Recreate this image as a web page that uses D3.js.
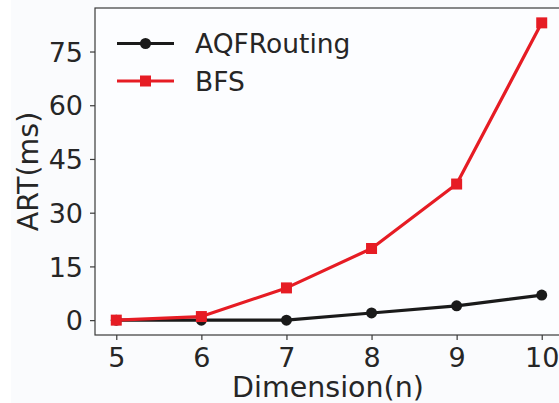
<!DOCTYPE html>
<html>
<head>
<meta charset="utf-8">
<script src="https://cdn.jsdelivr.net/npm/d3@7"></script>
<style>
  body { margin: 0; background: #ffffff; }
  text { font-family: "DejaVu Sans", sans-serif; fill: #262626; }
</style>
</head>
<body>
<div id="chart"></div>
<script>
// data
const dimensions = [5, 6, 7, 8, 9, 10];
const aqfRouting = [0, 0, 0, 2, 4, 7];
const bfs = [0, 1, 9, 20, 38, 83];
const yTicks = [0, 15, 30, 45, 60, 75];
const seriesNames = ["AQFRouting", "BFS"];
const seriesColors = ["#1a1a1a", "#e61c24"];

const W = 559, H = 403;
const margin = {top: 8, right: -4, bottom: 68, left: 95};
const width = W - margin.left - margin.right;
const height = H - margin.top - margin.bottom;

const svg = d3.select("#chart").append("svg")
    .attr("width", W)
    .attr("height", H);

// faint figure background
svg.append("rect")
    .attr("x", 11).attr("y", 0)
    .attr("width", W - 11).attr("height", H)
    .attr("fill", "#fafbfd");

const g = svg.append("g")
    .attr("transform", "translate(" + margin.left + "," + margin.top + ")");

// matplotlib-style 5% margins
const x = d3.scaleLinear()
    .domain([4.75, 10.25])
    .range([0, width]);
const y = d3.scaleLinear()
    .domain([-4.15, 87.15])
    .range([height, 0]);

g.append("rect")
    .attr("width", width).attr("height", height)
    .attr("fill", "#fcfdff")
    .attr("stroke", "#3a3a3a")
    .attr("stroke-width", 1.2);

const xAxis = d3.axisBottom(x).tickValues(dimensions).tickFormat(d3.format("d")).tickSize(5).tickPadding(7);
const yAxis = d3.axisLeft(y).tickValues(yTicks).tickSize(5).tickPadding(7);

const gx = g.append("g")
    .attr("transform", "translate(0," + height + ")")
    .call(xAxis);
const gy = g.append("g").call(yAxis);

[gx, gy].forEach(a => {
    a.select(".domain").remove();
    a.selectAll(".tick line").attr("stroke", "#3a3a3a").attr("stroke-width", 1.2);
    a.selectAll(".tick text").style("font-size", "27px").attr("fill", "#262626");
});
gx.selectAll(".tick text").attr("dy", "0.75em");
gy.selectAll(".tick text").attr("dy", "0.36em");

// axis titles
svg.append("text")
    .attr("x", margin.left + width / 2 - 1)
    .attr("y", 397)
    .attr("text-anchor", "middle")
    .style("font-size", "28.5px")
    .text("Dimension(n)");

svg.append("text")
    .attr("transform", "translate(38," + (margin.top + height / 2) + ") rotate(-90)")
    .attr("text-anchor", "middle")
    .style("font-size", "28.5px")
    .text("ART(ms)");

const line = d3.line()
    .x((d, i) => x(dimensions[i]))
    .y(d => y(d));

const series = [aqfRouting, bfs];

series.forEach((vals, si) => {
    g.append("path")
        .datum(vals)
        .attr("fill", "none")
        .attr("stroke", seriesColors[si])
        .attr("stroke-width", 3.2)
        .attr("stroke-linejoin", "round")
        .attr("d", line);

    if (si === 0) {
        g.selectAll(".dot")
            .data(vals)
            .enter().append("circle")
            .attr("cx", (d, i) => x(dimensions[i]))
            .attr("cy", d => y(d))
            .attr("r", 5.5)
            .attr("fill", seriesColors[si]);
    } else {
        g.selectAll(".sq")
            .data(vals)
            .enter().append("rect")
            .attr("x", (d, i) => x(dimensions[i]) - 5.5)
            .attr("y", d => y(d) - 5.5)
            .attr("width", 11).attr("height", 11)
            .attr("fill", seriesColors[si]);
    }
});

// legend
const legend = svg.append("g");
seriesNames.forEach((name, i) => {
    const ly = 43.5 + i * 37.5;
    legend.append("line")
        .attr("x1", 117).attr("x2", 174)
        .attr("y1", ly).attr("y2", ly)
        .attr("stroke", seriesColors[i])
        .attr("stroke-width", 3.2);
    if (i === 0) {
        legend.append("circle").attr("cx", 145.5).attr("cy", ly).attr("r", 5.5).attr("fill", seriesColors[i]);
    } else {
        legend.append("rect").attr("x", 140).attr("y", ly - 5.5).attr("width", 11).attr("height", 11).attr("fill", seriesColors[i]);
    }
    legend.append("text")
        .attr("x", 195)
        .attr("y", ly)
        .attr("dy", "0.36em")
        .style("font-size", "26.5px")
        .text(name);
});
</script>
</body>
</html>
